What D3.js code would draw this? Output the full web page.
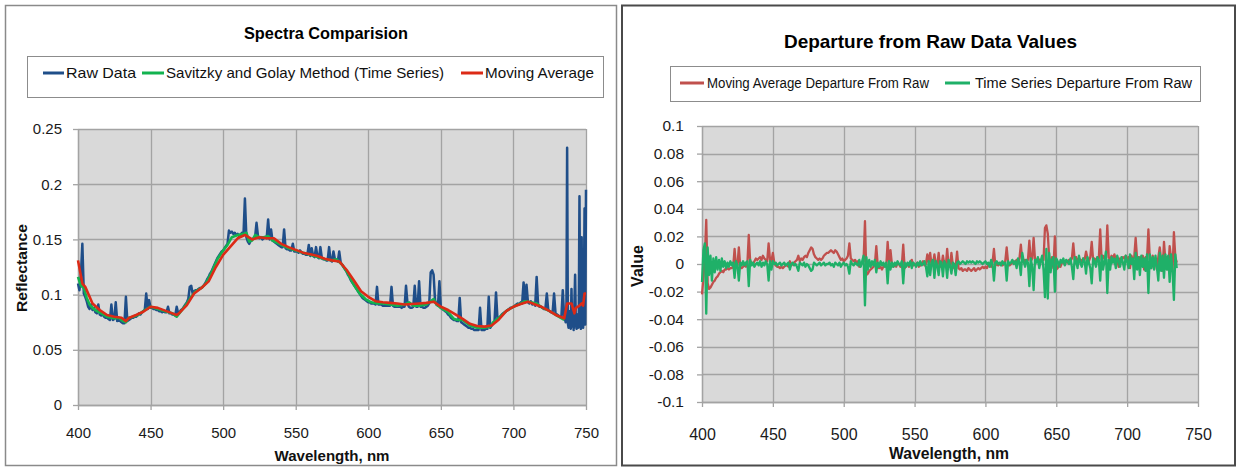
<!DOCTYPE html>
<html><head><meta charset="utf-8">
<script src="https://cdn.jsdelivr.net/npm/d3@7"></script>
<style>body{margin:0;background:#fff}svg{display:block}text{font-family:"Liberation Sans",Arial,sans-serif}</style>
</head><body><svg id="c" width="1239" height="468"></svg>
<script>
// ---------------- DATA ----------------
const xTicks = [400, 450, 500, 550, 600, 650, 700, 750];
const leftYTicks = [0, 0.05, 0.1, 0.15, 0.2, 0.25];
const rightYTicks = [-0.1, -0.08, -0.06, -0.04, -0.02, 0, 0.02, 0.04, 0.06, 0.08, 0.1];

const leftSeriesNames = ["Raw Data", "Savitzky and Golay Method (Time Series)", "Moving Average"];
const rightSeriesNames = ["Moving Average Departure From Raw", "Time Series Departure From Raw"];

// Raw reflectance, 1 nm steps, 400..735 nm
const rawReflectance = [
 .110,.104,.118,.146,.101,.098,.094,.089,.087,.091,
 .086,.088,.084,.083,.091,.082,.081,.082,.080,.079,
 .079,.078,.077,.091,.077,.078,.093,.076,.077,.076,
 .075,.074,.074,.098,.076,.077,.078,.079,.079,.080,
 .080,.081,.083,.082,.084,.085,.086,.101,.087,.095,
 .088,.088,.087,.087,.086,.086,.085,.085,.084,.085,
 .084,.084,.089,.083,.083,.082,.082,.081,.089,.083,
 .084,.086,.087,.089,.091,.093,.096,.107,.108,.101,
 .103,.104,.104,.105,.106,.106,.107,.109,.111,.114,
 .116,.119,.121,.124,.127,.130,.133,.135,.137,.139,
 .140,.142,.144,.146,.158,.156,.157,.155,.156,.154,
 .155,.153,.154,.156,.154,.187,.152,.148,.146,.149,
 .150,.151,.152,.165,.153,.151,.152,.150,.151,.152,
 .151,.168,.150,.159,.149,.148,.147,.146,.145,.144,
 .143,.143,.159,.142,.141,.141,.140,.140,.146,.139,
 .139,.139,.138,.140,.138,.137,.137,.136,.136,.145,
 .135,.142,.135,.134,.143,.134,.133,.143,.133,.132,
 .132,.131,.131,.143,.131,.130,.139,.132,.131,.130,
 .139,.129,.127,.125,.123,.121,.118,.116,.113,.111,
 .109,.107,.105,.103,.101,.099,.097,.096,.095,.094,
 .093,.093,.092,.092,.092,.091,.107,.091,.091,.091,
 .090,.090,.090,.090,.090,.090,.107,.090,.089,.089,
 .089,.089,.089,.088,.089,.089,.108,.092,.089,.088,
 .088,.089,.108,.089,.089,.112,.089,.089,.088,.088,
 .089,.090,.092,.120,.122,.118,.095,.091,.090,.112,
 .088,.087,.086,.085,.084,.082,.081,.079,.078,.077,
 .077,.076,.076,.097,.075,.074,.073,.072,.071,.070,
 .070,.069,.069,.068,.068,.068,.068,.088,.068,.068,
 .068,.069,.069,.098,.070,.072,.074,.076,.102,.078,
 .079,.080,.082,.083,.084,.085,.086,.087,.088,.088,
 .089,.090,.091,.092,.091,.093,.092,.111,.093,.109,
 .093,.092,.094,.091,.092,.090,.116,.091,.089,.089,
 .088,.087,.087,.101,.086,.085,.084,.084,.101,.083,
 .082,.081,.080,.079,.104,.078
];
// Raw reflectance tail, 0.5 nm steps
const rawTailWavelength = [735.5,736,736.5,737,737.5,738,738.5,739,739.5,740,740.5,741,741.5,742,742.5,743,743.5,744,744.5,745,745.5,746,746.5,747,747.5,748,748.5,749,749.5,750];
const rawTailReflectance = [.078,.075,.080,.233,.074,.070,.085,.072,.069,.105,.071,.080,.068,.090,.118,.073,.069,.082,.070,.075,.189,.071,.069,.152,.072,.070,.085,.178,.073,.195];

const sgWavelength = [400,402,404,406,408,410,413,416,420,425,428,431,433,435,438,442,446,450,455,460,465,468,471,475,478,481,485,488,492,496,500,503,506,510,514,516,518,520,522,525,528,531,534,537,540,545,550,555,560,565,570,575,578,582,586,590,594,598,602,606,610,615,620,625,628,631,635,640,643,645,647,650,655,659,662,665,670,675,680,684,686,688,690,695,700,705,708,712,716,720,725,730,735];
const sgReflectance = [.116,.108,.106,.097,.091,.088,.085,.083,.080,.0785,.079,.076,.075,.079,.080,.082,.086,.089,.087,.085,.083,.080,.085,.092,.098,.103,.106,.110,.120,.132,.140,.145,.152,.154,.155,.156,.148,.149,.154,.152,.152,.153,.149,.147,.145,.142,.140,.138,.136,.134,.132,.131,.132,.127,.119,.109,.101,.096,.093,.092,.092,.091,.090,.091,.093,.090,.090,.091,.094,.096,.091,.088,.084,.078,.077,.077,.072,.070,.070,.071,.075,.077,.079,.085,.089,.092,.094,.093,.092,.088,.085,.081,.077];

const maWavelength = [400,403,405,410,415,420,425,430,433,435,440,445,450,455,460,465,468,470,475,480,485,490,495,500,505,510,515,520,525,530,535,540,545,550,555,560,565,570,575,580,585,590,595,600,605,610,615,620,625,630,635,640,645,650,655,660,665,670,675,680,685,690,695,700,705,710,715,720,725,730,735,737,740,742,743,745,747,748,749,750];
const maReflectance = [.131,.110,.107,.092,.086,.0815,.080,.079,.076,.0788,.0815,.0845,.089,.088,.0855,.083,.0815,.0836,.0905,.101,.106,.112,.125,.136,.1435,.151,.154,.150,.152,.151,.151,.146,.143,.1405,.138,.1365,.135,.1325,.131,.130,.1225,.113,.103,.098,.094,.093,.0925,.092,.091,.0915,.092,.0925,.0936,.089,.086,.082,.078,.0735,.0715,.071,.072,.0775,.085,.089,.0915,.0936,.091,.0885,.085,.081,.0785,.092,.092,.083,.088,.0895,.092,.090,.101,.101];

// Departures, 1 nm steps, 400..735 nm
const maDeparture = [
 -.022,-.010,.004,.032,-.014,-.018,-.017,-.015,-.013,-.012,
 -.010,-.009,-.007,-.006,-.005,-.006,-.004,-.004,-.003,-.004,
 -.003,-.003,-.002,.011,-.002,-.001,.012,-.002,-.003,-.002,
 -.001,-.002,.000,.021,.002,.001,.000,.002,.004,.003,
 .004,.005,.003,.006,.004,.003,.002,.015,.003,.002,
 .008,.001,-.001,-.002,-.002,-.003,-.002,-.003,-.002,-.001,
 -.001,-.002,.002,-.001,.000,.001,.002,.003,.006,.002,
 .004,.003,.005,.006,.005,.008,.010,.012,.011,.007,
 .005,.004,.003,.004,.003,.004,.006,.007,.008,.008,
 .009,.010,.009,.008,.010,.009,.007,.005,.003,.004,
 .002,.003,.004,.006,.015,.004,.003,.002,.003,.001,
 .002,-.002,.000,.001,.002,.031,-.008,-.007,-.005,-.004,
 -.003,-.002,.000,.013,-.001,-.003,-.002,-.004,-.002,-.001,
 -.002,.016,.001,.010,.000,-.002,-.001,-.002,.001,.000,
 -.002,-.001,.014,-.003,-.001,.000,-.002,.001,.003,-.001,
 .000,-.001,.001,-.002,-.001,.000,.002,-.001,.000,.007,
 .001,.008,-.001,.000,.007,.000,-.001,.008,-.002,-.001,
 .006,.000,-.002,.011,-.001,-.002,.008,-.001,-.003,-.002,
 .009,-.003,-.004,-.003,-.005,-.004,-.004,-.005,-.003,-.004,
 -.005,-.004,-.003,-.005,-.004,-.003,-.004,-.003,-.002,-.003,
 -.002,-.003,-.001,.000,-.002,.001,.011,-.001,.000,-.001,
 .000,.001,-.001,.000,.002,.012,.001,-.001,.000,.001,
 .002,.001,.003,.001,.004,.014,.002,.001,.003,.002,
 .003,.017,.002,.004,.019,.003,.002,.004,.003,.002,
 .004,.003,.026,.028,.022,.004,-.004,.005,-.003,.020,
 -.004,-.003,.000,-.002,.002,.001,.000,.002,.001,.003,
 .002,.004,.015,.003,.005,.002,.004,.003,.002,.004,
 .003,.009,.004,.002,.005,.016,.003,.004,.002,.005,
 .004,.025,.003,.006,.004,.002,.028,.005,.003,.006,
 .004,.007,.003,.005,-.002,.004,.003,.005,.004,.006,
 .003,.005,-.003,.006,.003,.005,.019,.004,-.002,.005,
 .003,.006,-.004,.005,.003,.025,.004,-.003,.006,.003,
 .004,-.004,.005,.012,.003,-.005,.016,.002,.005,-.004,
 .013,.004,-.005,.023,.005,.001
];
const tsDeparture = [
 -.013,.010,.015,-.036,.012,-.008,.006,-.012,.004,-.006,
 .005,-.004,.003,-.005,.004,-.002,.002,-.003,.001,-.002,
 .002,-.001,.001,-.010,.002,-.001,-.012,.001,-.001,.002,
 -.001,.001,.002,-.016,.003,-.001,.001,-.002,.000,.001,
 -.001,.002,-.002,.001,-.001,.002,.000,-.012,.002,-.004,
 .002,.000,.001,-.001,.000,.001,-.001,.000,.001,-.001,
 .000,.001,-.004,.000,.001,-.001,.000,-.002,-.005,.001,
 .000,-.001,.001,-.002,.000,-.001,-.003,-.005,-.004,.001,
 .000,-.001,.000,.001,-.001,.000,.001,-.001,.000,.000,
 .001,-.001,.000,-.002,.001,.000,-.001,.001,-.002,.000,
 .001,-.001,.000,-.002,-.007,.002,.000,-.001,.001,.000,
 -.001,.003,-.002,.002,.006,-.030,.005,-.004,.003,-.002,
 .002,-.001,.003,-.006,.001,-.002,.002,-.001,.001,-.002,
 .001,-.014,.002,-.004,.001,-.002,.001,-.001,.002,.000,
 -.001,.002,-.014,.001,-.002,.001,-.001,.002,-.003,.001,
 .000,-.002,.001,-.001,.002,-.001,.000,.002,-.002,-.009,
 .002,-.008,.001,.003,-.010,.002,-.001,-.008,.002,.001,
 -.009,.002,.000,-.010,.003,-.001,-.007,.001,.000,-.008,
 .001,.002,.000,.001,.002,.001,.000,.002,.001,.002,
 .001,.002,.001,.000,.002,.001,.002,.001,.000,.001,
 .002,.000,.001,-.002,.003,.000,-.012,.001,.002,.000,
 .001,-.001,.002,.000,.001,-.012,.002,.000,.001,.003,
 .000,.002,-.003,.004,.001,-.008,.008,.002,-.002,.003,
 .001,-.016,.004,-.002,-.019,.003,.001,.005,-.003,.002,
 .006,-.004,-.024,.011,-.025,.008,-.006,.003,.005,-.020,
 .004,.002,-.002,.003,.001,.004,-.001,.003,.002,.000,
 .004,-.002,-.011,.005,.002,-.003,.006,.001,-.002,.004,
 .002,-.007,.005,.001,-.003,-.014,.004,.002,-.002,.005,
 .003,-.012,.006,-.004,.002,.009,-.021,.003,-.004,.005,
 .001,.004,-.003,.006,.002,-.002,.005,.001,-.004,.006,
 .002,-.003,.007,.000,.004,-.011,.008,-.004,.005,-.008,
 .006,-.002,.004,-.005,.007,-.021,.007,-.003,.005,-.004,
 .006,-.002,-.012,.008,-.005,.006,-.010,.007,-.004,.006,
 -.013,.007,-.005,-.026,.007,-.003
];

// ---------------- DRAW ----------------
const svg = d3.select("#c");
svg.append("rect").attr("x",5.5).attr("y",5.5).attr("width",611).attr("height",460)
  .attr("fill","#fff").attr("stroke","#8a8a8a").attr("stroke-width",1.5);
svg.append("rect").attr("x",622).attr("y",5.5).attr("width",613).attr("height",460)
  .attr("fill","#fff").attr("stroke","#4a4a4a").attr("stroke-width",2);

const fmt = d => String(+(+d).toFixed(3));

function panel(cfg){
  const g = svg.append("g");
  const x = d3.scaleLinear().domain([400,750]).range([cfg.x0,cfg.x1]);
  const y = d3.scaleLinear().domain([cfg.yTicks[0], cfg.yTicks[cfg.yTicks.length-1]]).range([cfg.yb,cfg.yt]);
  g.append("rect").attr("x",cfg.x0).attr("y",cfg.yt).attr("width",cfg.x1-cfg.x0).attr("height",cfg.yb-cfg.yt).attr("fill","#d9d9d9");
  g.selectAll(".hg").data(cfg.yTicks).join("line")
    .attr("x1",cfg.x0).attr("x2",cfg.x1).attr("y1",d=>Math.round(y(d))+0.5).attr("y2",d=>Math.round(y(d))+0.5)
    .attr("stroke","#a3a3a3").attr("stroke-width",1.3);
  g.selectAll(".vg").data(xTicks).join("line")
    .attr("x1",d=>Math.round(x(d))+0.5).attr("x2",d=>Math.round(x(d))+0.5).attr("y1",cfg.yt).attr("y2",cfg.yb)
    .attr("stroke","#a3a3a3").attr("stroke-width",1.3);
  const ax = g.append("g").attr("transform",`translate(${cfg.x0},0)`)
    .call(d3.axisLeft(y).tickValues(cfg.yTicks).tickSize(5).tickSizeOuter(0).tickPadding(cfg.yPad).tickFormat(fmt));
  const bx = g.append("g").attr("transform",`translate(0,${cfg.yb})`)
    .call(d3.axisBottom(x).tickValues(xTicks).tickSize(5).tickSizeOuter(0).tickPadding(cfg.xPad).tickFormat(d=>d));
  [ax,bx].forEach(a=>{
    a.select(".domain").attr("stroke","#a3a3a3").attr("stroke-width",1.3);
    a.selectAll(".tick line").attr("stroke","#a3a3a3").attr("stroke-width",1.3);
    a.selectAll("text").attr("fill","#1a1a1a").attr("font-family",'"Liberation Sans",Arial,sans-serif');
  });
  ax.selectAll("text").attr("font-size",cfg.yFont);
  bx.selectAll("text").attr("font-size",cfg.xFont);
  return {g,x,y};
}

function lineOf(g, xs, ys, x, y, color, w){
  const pts = xs.map((d,i)=>[d, ys[i]]);
  g.append("path").datum(pts).attr("fill","none").attr("stroke",color).attr("stroke-width",w)
    .attr("stroke-linejoin","round")
    .attr("d", d3.line().x(d=>x(d[0])).y(d=>y(d[1])));
}

// LEFT
const L = panel({x0:78,x1:586,yt:129,yb:405,yTicks:leftYTicks,yPad:11,xPad:17,yFont:"15px",xFont:"15px"});
const rawWl = d3.range(400, 736).concat(rawTailWavelength);
const rawVals = rawReflectance.concat(rawTailReflectance);
const lc = {raw:"#1f4e89", sg:"#12b34f", ma:"#dc2a16"};
lineOf(L.g, rawWl, rawVals, L.x, L.y, lc.raw, 2.5);
lineOf(L.g, sgWavelength, sgReflectance, L.x, L.y, lc.sg, 2.6);
lineOf(L.g, maWavelength, maReflectance, L.x, L.y, lc.ma, 2.6);

svg.append("text").attr("x",326).attr("y",39).attr("text-anchor","middle").attr("font-weight","bold")
  .attr("font-size","17px").attr("fill","#000").attr("textLength",164).attr("lengthAdjust","spacingAndGlyphs").text("Spectra Comparision");
svg.append("rect").attr("x",27.5).attr("y",56.5).attr("width",576).attr("height",41).attr("fill","#fff").attr("stroke","#8c8c8c");
const leftLeg = [
  {x1:43,x2:64,tx:66,tw:70,c:lc.raw},
  {x1:142,x2:164,tx:166,tw:278,c:lc.sg},
  {x1:461,x2:483,tx:485,tw:109,c:lc.ma}];
leftLeg.forEach((d,i)=>{
  svg.append("line").attr("x1",d.x1).attr("x2",d.x2).attr("y1",73).attr("y2",73).attr("stroke",d.c).attr("stroke-width",3);
  svg.append("text").attr("x",d.tx).attr("y",78).attr("font-size","15px").attr("fill","#111")
    .attr("textLength",d.tw).attr("lengthAdjust","spacingAndGlyphs").text(leftSeriesNames[i]);
});
svg.append("text").attr("x",332).attr("y",461).attr("text-anchor","middle").attr("font-weight","bold")
  .attr("font-size","15px").attr("fill","#111").attr("textLength",115).attr("lengthAdjust","spacingAndGlyphs").text("Wavelength, nm");
svg.append("text").attr("transform","translate(26.5,268) rotate(-90)").attr("text-anchor","middle").attr("font-weight","bold")
  .attr("font-size","15.5px").attr("fill","#111").attr("textLength",88).attr("lengthAdjust","spacingAndGlyphs").text("Reflectance");

// RIGHT
const R = panel({x0:702,x1:1198,yt:126,yb:402,yTicks:rightYTicks,yPad:13,xPad:22,yFont:"15.5px",xFont:"16px"});
const depWl = d3.range(400, 736);
const rc = {ma:"#c0504d", ts:"#1fb068"};
lineOf(R.g, depWl, maDeparture, R.x, R.y, rc.ma, 2.3);
lineOf(R.g, depWl, tsDeparture, R.x, R.y, rc.ts, 2.3);

svg.append("text").attr("x",930.5).attr("y",48).attr("text-anchor","middle").attr("font-weight","bold")
  .attr("font-size","19px").attr("fill","#000").attr("textLength",293).attr("lengthAdjust","spacingAndGlyphs").text("Departure from Raw Data Values");
svg.append("rect").attr("x",670.5).attr("y",66.5).attr("width",530).attr("height",35).attr("fill","#fff").attr("stroke","#8c8c8c");
const rightLeg = [
  {x1:680,x2:704,tx:707,tw:222,c:rc.ma},
  {x1:945,x2:970,tx:975,tw:217,c:rc.ts}];
rightLeg.forEach((d,i)=>{
  svg.append("line").attr("x1",d.x1).attr("x2",d.x2).attr("y1",83).attr("y2",83).attr("stroke",d.c).attr("stroke-width",3);
  svg.append("text").attr("x",d.tx).attr("y",88).attr("font-size","15.5px").attr("fill","#111")
    .attr("textLength",d.tw).attr("lengthAdjust","spacingAndGlyphs").text(rightSeriesNames[i]);
});
svg.append("text").attr("x",949).attr("y",459).attr("text-anchor","middle").attr("font-weight","bold")
  .attr("font-size","16px").attr("fill","#111").attr("textLength",120).attr("lengthAdjust","spacingAndGlyphs").text("Wavelength, nm");
svg.append("text").attr("transform","translate(643,266) rotate(-90)").attr("text-anchor","middle").attr("font-weight","bold")
  .attr("font-size","16px").attr("fill","#111").text("Value");
</script></body></html>
